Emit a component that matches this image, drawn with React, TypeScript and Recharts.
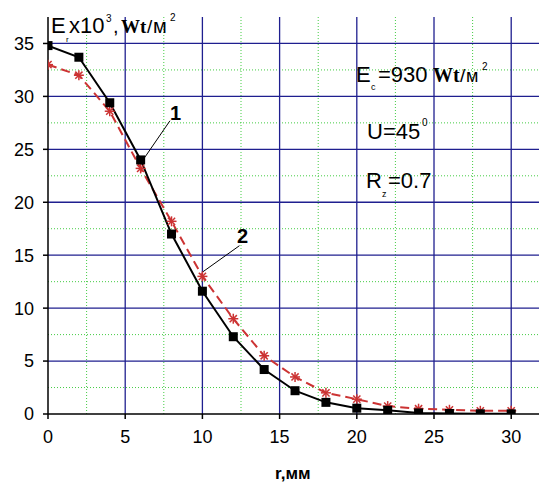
import { ComposedChart, Line, XAxis, YAxis, ReferenceLine } from 'recharts';

// r, mm
const radius = [0, 2, 4, 6, 8, 10, 12, 14, 16, 18, 20, 22, 24, 26, 28, 30];
// curve 1 (black squares), E x10^3 Wt/m2
const curve1 = [34.8, 33.7, 29.4, 24.0, 17.0, 11.6, 7.3, 4.2, 2.2, 1.1, 0.55, 0.35, 0.1, 0.05, 0.02, 0.02];
// curve 2 (red dashed stars)
const curve2 = [33.0, 32.0, 28.6, 23.2, 18.2, 13.0, 9.0, 5.5, 3.5, 2.0, 1.4, 0.75, 0.5, 0.4, 0.3, 0.3];

const xMajor = [0, 5, 10, 15, 20, 25, 30];
const yMajor = [0, 5, 10, 15, 20, 25, 30, 35];
const xMinor = [2.5, 7.5, 12.5, 17.5, 22.5, 27.5];
const yMinor = [2.5, 7.5, 12.5, 17.5, 22.5, 27.5, 32.5];

const data = radius.map((r, i) => ({ r, e1: curve1[i], e2: curve2[i] }));

const NAVY = '#1f1f8f';
const GREEN = '#44cc44';
const RED = '#cc3333';
const FONT = 'Arial, "Liberation Sans", sans-serif';
const SERIF = '"Liberation Serif", "Times New Roman", serif';

const Square = (p: any) => {
  if (p.cx == null || p.cy == null) return null;
  return <rect key={p.key} x={p.cx - 4.5} y={p.cy - 4.5} width={9} height={9} fill="#000" />;
};

const Star = (p: any) => {
  if (p.cx == null || p.cy == null) return null;
  const { cx, cy } = p;
  const s = 5;
  return (
    <g key={p.key} stroke={RED} strokeWidth={1.5}>
      <line x1={cx} y1={cy - s} x2={cx} y2={cy + s} />
      <line x1={cx - s} y1={cy} x2={cx + s} y2={cy} />
      <line x1={cx - 3.6} y1={cy - 3.6} x2={cx + 3.6} y2={cy + 3.6} />
      <line x1={cx - 3.6} y1={cy + 3.6} x2={cx + 3.6} y2={cy - 3.6} />
    </g>
  );
};

export default function App() {
  return (
    <div style={{ position: 'absolute', left: 0, top: 0, width: 539, height: 483, background: '#fff' }}>
      <ComposedChart width={539} height={483} data={data} margin={{ top: 17, right: 0, left: 0, bottom: 39 }}>
        {xMinor.map(v => (
          <ReferenceLine key={'xm' + v} x={v} stroke={GREEN} strokeDasharray="1 2" strokeWidth={1} />
        ))}
        {yMinor.map(v => (
          <ReferenceLine key={'ym' + v} y={v} stroke={GREEN} strokeDasharray="1 2" strokeWidth={1} />
        ))}
        {xMajor.slice(1).map(v => (
          <ReferenceLine key={'xM' + v} x={v} stroke={NAVY} strokeWidth={1.3} />
        ))}
        {yMajor.slice(1).map(v => (
          <ReferenceLine key={'yM' + v} y={v} stroke={NAVY} strokeWidth={1.3} />
        ))}
        <XAxis
          type="number"
          dataKey="r"
          domain={[0, 31.8]}
          ticks={xMajor}
          allowDataOverflow
          height={30}
          tickSize={5}
          tickMargin={11}
          axisLine={{ stroke: '#000', strokeWidth: 1.5 }}
          tickLine={{ stroke: '#000', strokeWidth: 1.5 }}
          tick={{ fill: '#000', fontSize: 18, fontFamily: FONT }}
        />
        <YAxis
          type="number"
          domain={[0, 37.5]}
          ticks={yMajor}
          allowDataOverflow
          width={48}
          tickSize={5}
          tickMargin={9}
          axisLine={{ stroke: '#000', strokeWidth: 1.5 }}
          tickLine={{ stroke: '#000', strokeWidth: 1.5 }}
          tick={{ fill: '#000', fontSize: 18, fontFamily: FONT }}
        />
        <ReferenceLine segment={[{ x: 7.9, y: 27.7 }, { x: 6.2, y: 24.1 }]} stroke="#000" strokeWidth={1} />
        <ReferenceLine segment={[{ x: 12.4, y: 15.9 }, { x: 10.0, y: 13.4 }]} stroke="#000" strokeWidth={1} />
        <Line
          dataKey="e2"
          type="linear"
          stroke={RED}
          strokeWidth={2}
          strokeDasharray="9 5"
          dot={Star}
          activeDot={false}
          isAnimationActive={false}
        />
        <Line
          dataKey="e1"
          type="linear"
          stroke="#000"
          strokeWidth={2}
          dot={Square}
          activeDot={false}
          isAnimationActive={false}
        />
      </ComposedChart>
      <svg width={539} height={483} style={{ position: 'absolute', left: 0, top: 0, pointerEvents: 'none' }}>
        <g fontFamily={FONT} fill="#000">
          <text x={51} y={33} fontSize={22}>E</text>
          <text x={66} y={42} fontSize={8}>r</text>
          <text x={69} y={33} fontSize={22}>x10</text>
          <text x={106} y={22} fontSize={10}>3</text>
          <text x={113} y={33} fontSize={20}>,</text>
          <text x={121} y={33} fontSize={19} fontWeight="bold" fontFamily={SERIF}>Wt</text>
          <text x={147} y={33} fontSize={19}>/</text>
          <text x={153} y={33} fontSize={20}>м</text>
          <text x={170} y={21} fontSize={10}>2</text>

          <text x={356} y={82} fontSize={22}>E</text>
          <text x={371} y={90} fontSize={9}>c</text>
          <text x={378} y={82} fontSize={22}>=930</text>
          <text x={433} y={82} fontSize={20} fontWeight="bold" fontFamily={SERIF}>Wt</text>
          <text x={460} y={82} fontSize={19}>/</text>
          <text x={466} y={82} fontSize={18}>м</text>
          <text x={482} y={70} fontSize={10}>2</text>

          <text x={367} y={139} fontSize={22}>U=45</text>
          <text x={422} y={126} fontSize={10}>0</text>

          <text x={366} y={188} fontSize={22}>R</text>
          <text x={382} y={197} fontSize={9}>z</text>
          <text x={388} y={188} fontSize={22}>=0.7</text>

          <text x={170} y={120} fontSize={20} fontWeight="bold">1</text>
          <text x={237} y={243} fontSize={20} fontWeight="bold">2</text>

          <text x={275} y={479} fontSize={17} fontWeight="bold">r,мм</text>
        </g>
      </svg>
    </div>
  );
}
